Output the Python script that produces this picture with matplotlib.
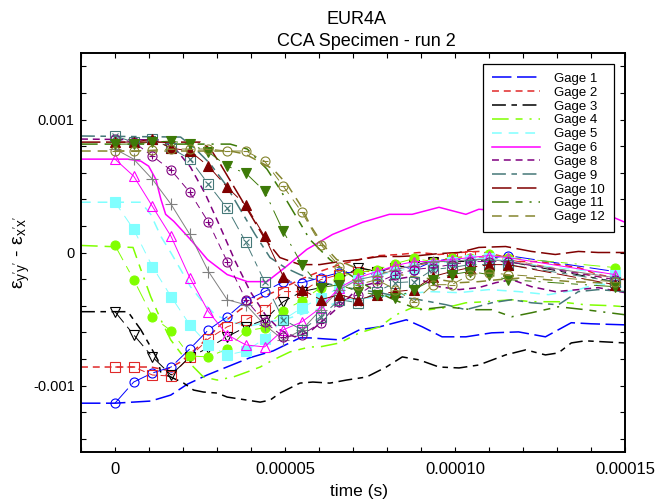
import numpy as np
import matplotlib
matplotlib.use('Agg')
import matplotlib.pyplot as plt
from matplotlib.ticker import MultipleLocator, FuncFormatter

plt.rcParams['font.family'] = ['Liberation Sans', 'DejaVu Sans']
plt.rcParams['mathtext.fontset'] = 'custom'
plt.rcParams['mathtext.rm'] = 'Liberation Sans'
plt.rcParams['mathtext.it'] = 'Liberation Sans:italic'
plt.rcParams['lines.scale_dashes'] = False

# sample times of the marked points (microseconds), same for all gages
t_mark = [0, 5.5, 11, 16.5, 22, 27.5, 33, 38.5, 44, 49.5, 55, 60.5, 66, 71.5,
          77, 82.5, 88, 93.5, 99, 104.5, 110, 115.5, 147]

# strain traces: time in microseconds, strain in microstrain
t_g1 = [-10, 0, 10.5, 16.4, 21.3, 27.2, 33, 39.8, 46.5, 54.4, 57.3, 66.1, 71.9, 77.8,
        85.7, 90.4, 96.2, 103.2, 110.8, 118.7, 126.6, 134.2, 140.1, 150]
e_g1 = [-1133, -1133, -1117, -1072, -990, -920, -860, -790, -740, -642, -642, -657,
        -581, -559, -506, -559, -634, -634, -604, -597, -634, -528, -536, -544]
m_g1 = [-1133, -974, -906, -861, -725, -581, -483, -362, -294, -219, -227, -189, -151,
        -151, -166, -91, -128, -68, -45, -60, -45, -23, -143]

t_g2 = [-10, 10.5, 14.9, 19.3, 25.1, 31.0, 36.8, 42.7, 48.5, 54.4, 60.2, 66.1, 71.9,
        77.8, 83.6, 89.5, 95.3, 101.2, 107.0, 112.9, 118.7, 124.6, 130.4, 136.3, 142.1, 150]
e_g2 = [-861, -861, -883, -823, -695, -544, -430, -340, -279, -204, -143, -91, -53,
        -23, -15, 0, -15, 0, 8, -23, -68, -68, -91, -113, -166, -204]
m_g2 = [-861, -861, -921, -929, -785, -649, -559, -506, -430, -294, -294, -204, -166,
        -143, -143, -113, -98, -76, -38, -30, -38, -53, -204]

t_g3 = [-10, 3.8, 7.6, 10.5, 12.6, 13.5, 16.4, 20.2, 23.1, 26.0, 30.1, 33.0, 38.9,
        42.7, 45.6, 48.5, 54.4, 58.2, 63.2, 68.1, 74.0, 79.8, 84.5, 89.5, 95.3, 101.2,
        107.0, 114.9, 120.8, 126.6, 130.4, 134.2, 138.3, 150]
e_g3 = [-445, -445, -581, -710, -808, -906, -936, -982, -1034, -1049, -1057, -1087,
        -1110, -1125, -1110, -1057, -982, -974, -982, -959, -936, -861, -785, -808,
        -861, -868, -846, -770, -732, -770, -755, -680, -664, -680]
m_g3 = [-445, -619, -785, -921, -785, -717, -634, -559, -506, -370, -294, -264, -204,
        -113, -143, -113, -91, -68, -68, -68, -53, -68, -219]

t_g4 = [-10, 5.3, 7.6, 10.5, 13.5, 16.4, 19.3, 23.1, 26.0, 30.1, 34.8, 38.9, 42.7,
        46.5, 51.5, 57.3, 60.2, 66.1, 71.9, 77.8, 82.7, 87.4, 92.4, 97.4, 103.2, 109.1,
        116.7, 122.5, 130.4, 138.3, 145.9, 150]
e_g4 = [53, 38, -128, -332, -506, -657, -755, -861, -936, -959, -936, -898, -861,
        -808, -747, -710, -710, -680, -604, -559, -468, -415, -430, -415, -378, -370,
        -355, -370, -370, -393, -400, -408]
m_g4 = [53, -204, -483, -589, -778, -785, -725, -589, -566, -438, -362, -264, -181,
        -151, -128, -83, -45, -68, -38, -38, -15, -38, -113]

t_g5 = [-10, 7.6, 10.5, 13.5, 16.4, 19.3, 22.2, 26.0, 29.5, 33.9, 39.8, 45.6, 51.5,
        57.3, 63.2, 69.0, 74.9, 83.6, 92.4, 101.2, 109.9, 118.7, 127.5, 136.3, 142.1, 150]
e_g5 = [378, 378, 287, 121, 0, -128, -257, -378, -468, -521, -551, -521, -491, -445,
        -393, -355, -340, -317, -294, -302, -279, -294, -317, -279, -234, -264]
m_g5 = [378, 174, -106, -332, -544, -695, -770, -740, -649, -506, -415, -340, -264,
        -204, -174, -143, -113, -91, -68, -53, -38, -68, -166]

t_g6 = [-10, 3.8, 7.6, 9.9, 12.0, 13.5, 14.9, 17.3, 22.2, 27.2, 33.0, 38.9, 44.7,
        50.0, 56.4, 64.0, 72.8, 80.7, 87.4, 95.3, 103.2, 107.0, 115.8, 126.0, 136.3,
        145.9, 150]
e_g6 = [702, 702, 687, 649, 551, 400, 287, 234, 98, -53, -166, -219, -219, -113, 23,
        136, 227, 287, 287, 340, 287, 325, 310, 287, 302, 272, 227]
m_g6 = [702, 574, 347, 121, -189, -445, -619, -695, -710, -581, -521, -415, -264,
        -189, -143, -98, -68, -68, -53, -38, -23, -38, -166]

# gage 7 only has the marked points
m_g7 = [778, 702, 551, 362, 136, -143, -355, -393, -544, -657, -581, -430, -279, -204,
        -174, -128, -98, -68, -68, -53, -53, -68, -189]

t_g8 = [-10, 13.5, 17.8, 22.2, 26.6, 31.0, 35.4, 39.8, 44.2, 48.5, 52.9, 57.3, 63.2,
        68.1, 71.9, 77.8, 87.4, 95.3, 101.2, 107.0, 112.0, 116.7, 122.5, 129.5, 136.3,
        142.1, 150]
e_g8 = [853, 846, 778, 642, 438, 189, -68, -294, -468, -581, -634, -596, -468, -355,
        -257, -219, -181, -257, -279, -264, -227, -204, -257, -294, -279, -264, -302]
m_g8 = [853, 830, 725, 619, 453, 227, -68, -355, -521, -634, -619, -528, -370, -317,
        -227, -166, -128, -113, -91, -68, -68, -68, -204]

t_g9 = [-10, 19.3, 23.7, 28.1, 32.5, 36.8, 41.2, 45.6, 50.0, 54.4, 60.2, 66.1, 71.9,
        77.8, 83.6, 89.5, 97.4, 103.2, 110.8, 116.7, 122.5, 130.4, 136.3, 142.1, 150]
e_g9 = [876, 868, 778, 664, 513, 325, 136, -38, -113, -166, -219, -257, -279, -302,
        -332, -355, -393, -430, -378, -355, -378, -393, -294, -279, -294]
m_g9 = [876, 830, 853, 785, 702, 513, 332, 76, -219, -506, -581, -483, -355, -378,
        -294, -227, -219, -128, -113, -91, -91, -91, -219]

t_g10 = [-10, 25.1, 28.1, 31.0, 35.4, 39.8, 44.2, 48.5, 54.4, 60.2, 66.1, 71.9, 77.8,
         83.6, 89.5, 95.3, 101.2, 107.0, 114.9, 122.5, 129.5, 136.3, 142.1, 150]
e_g10 = [830, 830, 778, 664, 476, 287, 98, -38, -91, -91, -68, -53, -30, -30, -23, -8,
         0, 38, 45, 8, -15, 8, 0, 0]
m_g10 = [830, 830, 853, 785, 763, 649, 491, 355, 121, -181, -279, -355, -317, -355,
         -317, -294, -279, -181, -143, -113, -91, -91, -242]

t_g11 = [-10, 33.9, 38.9, 44.7, 48.5, 52.9, 57.3, 63.2, 69.0, 74.9, 80.7, 85.7, 89.5,
         97.4, 105.0, 110.8, 116.7, 122.5, 130.4, 138.3, 150]
e_g11 = [815, 815, 778, 627, 476, 287, 98, -53, -166, -264, -340, -393, -430, -408,
         -430, -430, -483, -453, -408, -430, -468]
m_g11 = [815, 815, 830, 838, 815, 755, 649, 596, 461, 159, -91, -264, -242, -294, -317,
         -340, -279, -204, -166, -143, -166, -204, -257]

t_g12 = [-10, 33.9, 38.3, 42.7, 46.5, 50.6, 54.4, 57.3, 61.1, 65.2, 70.5, 77.8, 83.6,
         89.5, 95.3, 101.2, 107.0, 112.9, 120.8, 126.6, 134.2, 142.1, 150]
e_g12 = [763, 763, 740, 680, 627, 513, 362, 211, 60, -53, -113, -143, -166, -189, -204,
         -227, -219, -204, -189, -204, -219, -227, -242]
m_g12 = [763, 763, 770, 778, 778, 778, 763, 763, 687, 498, 302, 60, -106, -242, -204,
         -279, -370, -242, -242, -166, -151, -166, -219]

# line style per gage: (label, colour, dashes, marker, filled, inner mark)
long_dash = (0, (14, 4))
short_dash = (0, (5, 3.5))
dash_dot2 = (0, (10, 4, 4, 4))
dash_dot3 = (0, (12, 5, 5, 5, 1.5, 5))
mid_dash = (0, (7, 5))

gages = [
    ('Gage 1', '#0000ff', long_dash, 'o', False, None, t_g1, e_g1, m_g1),
    ('Gage 2', '#e02828', short_dash, 's', False, None, t_g2, e_g2, m_g2),
    ('Gage 3', '#000000', dash_dot2, 'v', False, None, t_g3, e_g3, m_g3),
    ('Gage 4', '#80ff00', dash_dot3, 'o', True, None, t_g4, e_g4, m_g4),
    ('Gage 5', '#80ffff', mid_dash, 's', True, None, t_g5, e_g5, m_g5),
    ('Gage 6', '#ff00ff', '-', '^', False, None, t_g6, e_g6, m_g6),
    (None, '#808080', '-', '+', False, None, None, None, m_g7),
    ('Gage 8', '#800080', short_dash, 'o', False, '+', t_g8, e_g8, m_g8),
    ('Gage 9', '#457878', dash_dot2, 's', False, 'x', t_g9, e_g9, m_g9),
    ('Gage 10', '#800000', long_dash, '^', True, None, t_g10, e_g10, m_g10),
    ('Gage 11', '#3d7a08', dash_dot3, 'v', True, None, t_g11, e_g11, m_g11),
    ('Gage 12', '#85852e', mid_dash, 'o', False, '_', t_g12, e_g12, m_g12),
]

fig = plt.figure(figsize=(6.59, 5.0), dpi=100)
ax = fig.add_axes([0.1229, 0.096, 0.8255, 0.798])

tm = np.array(t_mark) * 1e-6
for label, col, ls, mk, filled, inner, t, e, m in gages:
    if t is not None:
        ax.plot(np.array(t) * 1e-6, np.array(e) * 1e-6, color=col, linestyle=ls,
                linewidth=1.1, label=label, zorder=2)
    ax.plot(tm, np.array(m) * 1e-6, color=col, linestyle=ls, linewidth=0.7,
            marker=mk, markersize=6.5 if mk != '+' else 8,
            markerfacecolor=col if filled else 'none', markeredgecolor=col,
            markeredgewidth=0.8, zorder=3)
    if inner is not None:
        ax.plot(tm, np.array(m) * 1e-6, linestyle='none', marker=inner,
                markersize=5 if inner != 'x' else 4, markeredgecolor=col,
                markeredgewidth=0.8, zorder=3)

ax.set_xlim(-1e-5, 1.5e-4)
ax.set_ylim(-0.0015, 0.0015)
ax.xaxis.set_major_locator(MultipleLocator(5e-5))
ax.xaxis.set_minor_locator(MultipleLocator(1e-5))
ax.yaxis.set_major_locator(MultipleLocator(1e-3))
ax.yaxis.set_minor_locator(MultipleLocator(2e-4))
ax.xaxis.set_major_formatter(FuncFormatter(lambda v, p: '0' if abs(v) < 1e-12 else f'{v:.5f}'))
ax.yaxis.set_major_formatter(FuncFormatter(lambda v, p: '0' if abs(v) < 1e-12 else f'{v:.3f}'))
ax.tick_params(which='both', direction='in', top=True, right=True, length=3.5, width=0.8)
ax.tick_params(axis='x', labelsize=12, pad=7)
ax.tick_params(axis='y', labelsize=10.5, pad=4.5)
for sp in ax.spines.values():
    sp.set_linewidth(1.4)

fig.text(357 / 659, 1 - 24 / 500, 'EUR4A', ha='center', va='baseline', fontsize=13)
fig.text(366 / 659, 1 - 46 / 500, 'CCA Specimen - run 2', ha='center', va='baseline',
         fontsize=13)

ax.set_xlabel('time (s)', fontsize=12.5, va='top')
ax.xaxis.set_label_coords(0.511, -0.08)
ax.set_ylabel("ε$_{\\mathregular{y'y'}}$ - ε$_{\\mathregular{x'x'}}$", fontsize=14,
              va='center')
ax.yaxis.set_label_coords(-0.108, 0.5)

leg = ax.legend(loc='upper right', fontsize=9.5, fancybox=False, edgecolor='black',
                framealpha=1, handlelength=3.6, labelspacing=0.12, borderpad=0.7,
                handletextpad=1.1, borderaxespad=0.8)
leg.get_frame().set_linewidth(0.9)

plt.savefig('out.png', dpi=100)
